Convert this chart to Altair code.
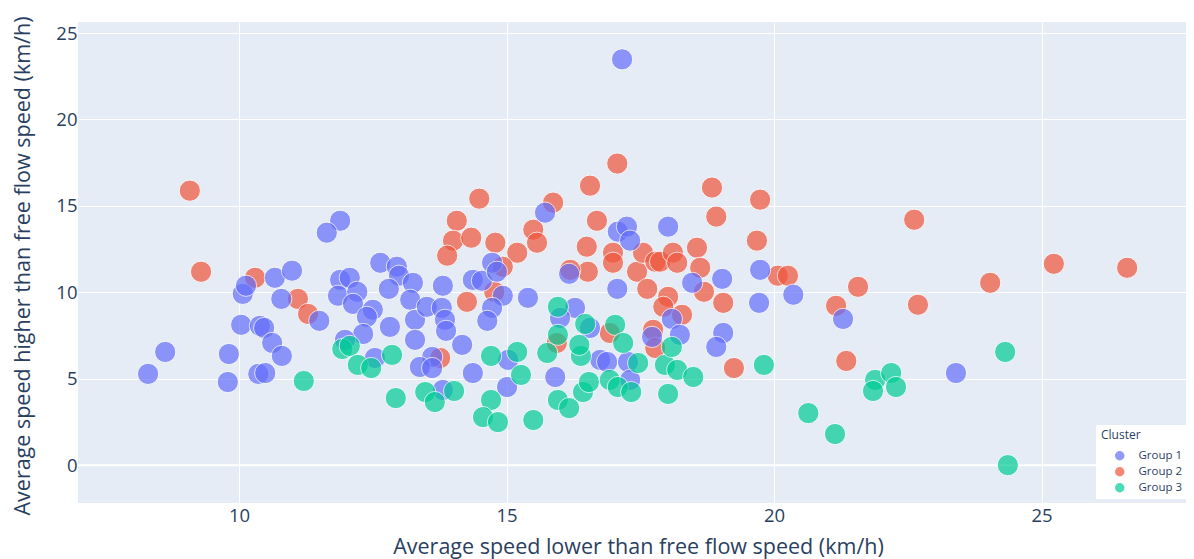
import altair as alt
import pandas as pd

# Group 1 (blue)
g1_x = [17.16, 8.30, 8.62, 9.79, 9.81, 10.04, 10.07, 10.13, 10.39, 10.47, 10.36, 10.49, 10.62, 10.80,
        10.67, 10.99, 10.79, 11.50, 11.89, 11.64, 12.64, 12.95, 12.99, 12.80, 13.25, 13.20, 11.89, 12.07,
        11.85, 12.21, 12.13, 12.50, 12.39, 12.82, 12.32, 13.29, 13.29, 13.51, 13.81, 13.79, 13.85, 13.87,
        14.17, 14.37, 14.54, 14.73, 14.82, 14.93, 14.73, 14.64, 15.40, 15.72, 12.54, 11.98, 13.61, 13.38,
        13.61, 13.81, 14.37, 15.01, 15.03, 15.91, 17.08, 17.25, 17.31, 18.02, 17.07, 16.17, 18.47, 19.03,
        19.74, 19.72, 20.36, 18.09, 18.24, 17.72, 19.05, 18.92, 16.28, 16.00, 16.56, 16.75, 16.88, 17.27,
        17.31, 21.29, 23.40]
g1_y = [23.48, 5.28, 6.55, 4.81, 6.43, 8.12, 9.91, 10.38, 8.06, 7.94, 5.28, 5.33, 7.07, 6.32,
        10.84, 11.25, 9.62, 8.35, 14.14, 13.45, 11.71, 11.48, 10.96, 10.20, 10.55, 9.57, 10.72, 10.84,
        9.80, 10.03, 9.33, 8.99, 8.58, 8.00, 7.59, 8.41, 7.25, 9.16, 10.38, 9.10, 8.41, 7.77,
        6.96, 10.72, 10.67, 11.71, 11.19, 9.80, 9.10, 8.35, 9.68, 14.61, 6.20, 7.25, 6.26, 5.68,
        5.62, 4.35, 5.33, 4.52, 6.09, 5.10, 13.51, 13.80, 12.99, 13.80, 10.20, 11.07, 10.55, 10.78,
        11.30, 9.39, 9.86, 8.46, 7.54, 7.42, 7.65, 6.84, 9.10, 8.52, 7.94, 6.09, 5.97, 5.97,
        4.93, 8.46, 5.33]

# Group 2 (red)
g2_x = [9.08, 9.29, 10.30, 11.10, 11.29, 14.49, 14.07, 14.00, 14.34, 13.89, 14.79, 15.20, 15.50, 15.57,
        14.93, 14.26, 14.77, 13.76, 15.87, 17.07, 16.56, 16.69, 16.50, 16.52, 16.99, 16.99, 17.44, 17.55,
        17.78, 17.87, 18.11, 18.19, 18.56, 18.62, 18.69, 19.05, 18.84, 18.92, 17.63, 18.02, 17.93, 18.28,
        17.74, 17.78, 19.74, 19.68, 20.07, 20.26, 19.25, 16.19, 22.62, 21.57, 21.16, 21.35, 22.69, 24.04,
        25.23, 26.60, 16.93, 15.94]
g2_y = [15.88, 11.19, 10.84, 9.62, 8.75, 15.42, 14.14, 12.99, 13.16, 12.12, 12.87, 12.29, 13.62, 12.87,
        11.48, 9.45, 10.03, 6.20, 15.19, 17.45, 16.17, 14.14, 12.64, 11.19, 12.29, 11.71, 11.19, 12.29,
        11.77, 11.77, 12.29, 11.71, 12.58, 11.42, 10.03, 9.39, 16.06, 14.38, 10.20, 9.74, 9.16, 8.70,
        7.83, 6.78, 15.36, 12.99, 10.96, 10.96, 5.62, 11.30, 14.20, 10.32, 9.22, 6.03, 9.28, 10.55,
        11.65, 11.42, 7.65, 7.07]

# Group 3 (green)
g3_x = [11.21, 11.93, 12.07, 12.22, 12.47, 12.86, 12.93, 13.48, 13.66, 14.02, 14.71, 15.20, 15.27, 14.71,
        14.56, 14.84, 15.50, 15.76, 15.96, 16.17, 16.43, 16.54, 16.39, 15.96, 15.96, 16.47, 17.03, 17.18,
        16.36, 16.93, 17.08, 17.33, 17.46, 17.96, 18.09, 18.19, 18.49, 18.02, 19.81, 20.64, 21.14, 21.89,
        22.19, 22.28, 21.85, 24.32, 24.37]
g3_y = [4.87, 6.72, 6.90, 5.80, 5.62, 6.38, 3.88, 4.23, 3.65, 4.29, 6.32, 6.55, 5.22, 3.77,
        2.78, 2.49, 2.61, 6.49, 3.77, 3.30, 4.23, 4.81, 6.32, 9.16, 7.54, 8.17, 8.12, 7.07,
        6.96, 4.93, 4.52, 4.23, 5.91, 5.80, 6.84, 5.51, 5.10, 4.12, 5.80, 3.01, 1.80, 4.93,
        5.33, 4.52, 4.29, 6.55, 0.0]

groups = ["Group 1", "Group 2", "Group 3"]
colors = ["#636efa", "#EF553B", "#00cc96"]
x_ticks = [10, 15, 20, 25]
y_ticks = [0, 5, 10, 15, 20, 25]

# draw order: Group 2, Group 1, Group 3
rows = []
for name, xs, ys in [("Group 2", g2_x, g2_y), ("Group 1", g1_x, g1_y), ("Group 3", g3_x, g3_y)]:
    for a, b in zip(xs, ys):
        rows.append({"x": a, "y": b, "Cluster": name})
df = pd.DataFrame(rows)
df["order"] = range(len(df))

FONT = "Open Sans"
TXT = "#2a3f5f"
W, H = 1108, 481

xscale = alt.Scale(domain=[6.99, 27.70], nice=False, zero=False)
yscale = alt.Scale(domain=[-2.19, 25.64], nice=False, zero=False)
YTITLE = "Average speed higher than free flow speed (km/h)"
XTITLE = "Average speed lower than free flow speed (km/h)"
yaxis = alt.Axis(values=y_ticks, titleX=-55, titleY=H / 2 + 3, titleBaseline="middle",
                 titleAngle=270, titleAlign="center", labelPadding=1)
xaxis = alt.Axis(values=x_ticks, titleX=W / 2 + 6, titleY=44, titleBaseline="middle", labelPadding=3)

zero = alt.Chart(pd.DataFrame({"z": [0]})).mark_rule(color="white", strokeWidth=2).encode(
    y=alt.Y("z:Q", scale=yscale, title=YTITLE, axis=yaxis)
)

points = alt.Chart(df).mark_circle(
    size=452, opacity=0.7, stroke="white", strokeWidth=1
).encode(
    x=alt.X("x:Q", scale=xscale, title=XTITLE, axis=xaxis),
    y=alt.Y("y:Q", scale=yscale, title=YTITLE, axis=yaxis),
    color=alt.Color("Cluster:N", scale=alt.Scale(domain=groups, range=colors),
                    legend=alt.Legend(orient="none", legendX=1018, legendY=403,
                                      fillColor="white", padding=5, symbolOffset=13,
                                      symbolType="circle", symbolSize=90, symbolOpacity=0.7,
                                      symbolStrokeWidth=0, labelOffset=13, rowPadding=3,
                                      titlePadding=8, titleFontWeight="normal")),
    order=alt.Order("order:Q"),
)

chart = alt.layer(zero, points).properties(
    width=W, height=H,
    autosize=alt.AutoSizeParams(type="none"),
    padding={"left": 70, "top": 14, "right": 0, "bottom": 60},
).configure_view(
    fill="#E5ECF6", stroke=None
).configure_axis(
    grid=True, gridColor="white", gridWidth=1, domain=False, ticks=False,
    labelFont=FONT, labelFontSize=18.5, labelColor=TXT,
    titleFont=FONT, titleFontSize=21.5, titleColor=TXT, titleFontWeight="normal",
).configure_legend(
    labelFont=FONT, labelFontSize=11.5, labelColor=TXT,
    titleFont=FONT, titleFontSize=12, titleColor=TXT,
)

chart.save("out.html", embed_options={"renderer": "svg", "actions": False})
